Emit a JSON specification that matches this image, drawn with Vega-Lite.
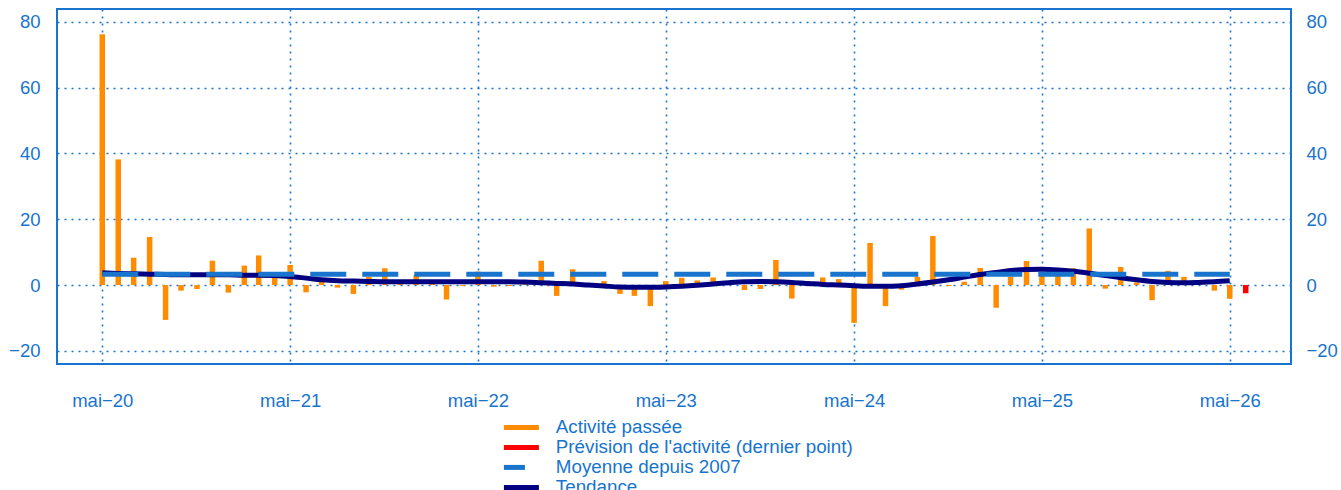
{
  "$schema": "https://vega.github.io/schema/vega-lite/v6.json",
  "width": 1234,
  "height": 355,
  "autosize": "none",
  "padding": {"left": 57, "top": 9, "right": 50, "bottom": 126},
  "config": {
    "font": "Liberation Sans",
    "view": {"stroke": "#1874cd", "strokeWidth": 2},
    "scale": {"continuousPadding": 0},
    "axis": {
      "labelFont": "Liberation Sans",
      "labelFontSize": 18.5,
      "labelColor": "#1874cd",
      "ticks": false,
      "domain": false,
      "gridColor": "#1874cd",
      "gridDash": [2, 5],
      "gridWidth": 1.6,
      "gridOpacity": 1,
      "title": null
    },
    "legend": {
      "labelFont": "Liberation Sans",
      "labelFontSize": 18.8,
      "labelColor": "#1874cd",
      "labelLimit": 0,
      "padding": 0
    }
  },
  "datasets": {
    "bars": [
      {"date": "2020-05-01", "value": 76.2, "serie": "Activité passée"},
      {"date": "2020-06-01", "value": 38.2, "serie": "Activité passée"},
      {"date": "2020-07-01", "value": 8.3, "serie": "Activité passée"},
      {"date": "2020-08-01", "value": 14.6, "serie": "Activité passée"},
      {"date": "2020-09-01", "value": -10.6, "serie": "Activité passée"},
      {"date": "2020-10-01", "value": -1.7, "serie": "Activité passée"},
      {"date": "2020-11-01", "value": -1.2, "serie": "Activité passée"},
      {"date": "2020-12-01", "value": 7.4, "serie": "Activité passée"},
      {"date": "2021-01-01", "value": -2.3, "serie": "Activité passée"},
      {"date": "2021-02-01", "value": 5.9, "serie": "Activité passée"},
      {"date": "2021-03-01", "value": 9.0, "serie": "Activité passée"},
      {"date": "2021-04-01", "value": 2.2, "serie": "Activité passée"},
      {"date": "2021-05-01", "value": 6.1, "serie": "Activité passée"},
      {"date": "2021-06-01", "value": -2.2, "serie": "Activité passée"},
      {"date": "2021-07-01", "value": 1.0, "serie": "Activité passée"},
      {"date": "2021-08-01", "value": -0.8, "serie": "Activité passée"},
      {"date": "2021-09-01", "value": -2.7, "serie": "Activité passée"},
      {"date": "2021-10-01", "value": 2.5, "serie": "Activité passée"},
      {"date": "2021-11-01", "value": 5.1, "serie": "Activité passée"},
      {"date": "2021-12-01", "value": 0.4, "serie": "Activité passée"},
      {"date": "2022-01-01", "value": 3.1, "serie": "Activité passée"},
      {"date": "2022-02-01", "value": 0.5, "serie": "Activité passée"},
      {"date": "2022-03-01", "value": -4.4, "serie": "Activité passée"},
      {"date": "2022-04-01", "value": -0.3, "serie": "Activité passée"},
      {"date": "2022-05-01", "value": 4.1, "serie": "Activité passée"},
      {"date": "2022-06-01", "value": -0.5, "serie": "Activité passée"},
      {"date": "2022-07-01", "value": -0.3, "serie": "Activité passée"},
      {"date": "2022-08-01", "value": 0.5, "serie": "Activité passée"},
      {"date": "2022-09-01", "value": 7.4, "serie": "Activité passée"},
      {"date": "2022-10-01", "value": -3.3, "serie": "Activité passée"},
      {"date": "2022-11-01", "value": 4.8, "serie": "Activité passée"},
      {"date": "2022-12-01", "value": 0.6, "serie": "Activité passée"},
      {"date": "2023-01-01", "value": 1.2, "serie": "Activité passée"},
      {"date": "2023-02-01", "value": -2.7, "serie": "Activité passée"},
      {"date": "2023-03-01", "value": -3.3, "serie": "Activité passée"},
      {"date": "2023-04-01", "value": -6.4, "serie": "Activité passée"},
      {"date": "2023-05-01", "value": 1.2, "serie": "Activité passée"},
      {"date": "2023-06-01", "value": 2.2, "serie": "Activité passée"},
      {"date": "2023-07-01", "value": 1.4, "serie": "Activité passée"},
      {"date": "2023-08-01", "value": 2.3, "serie": "Activité passée"},
      {"date": "2023-09-01", "value": 0.5, "serie": "Activité passée"},
      {"date": "2023-10-01", "value": -1.5, "serie": "Activité passée"},
      {"date": "2023-11-01", "value": -1.2, "serie": "Activité passée"},
      {"date": "2023-12-01", "value": 7.6, "serie": "Activité passée"},
      {"date": "2024-01-01", "value": -4.1, "serie": "Activité passée"},
      {"date": "2024-02-01", "value": 1.2, "serie": "Activité passée"},
      {"date": "2024-03-01", "value": 2.3, "serie": "Activité passée"},
      {"date": "2024-04-01", "value": 1.8, "serie": "Activité passée"},
      {"date": "2024-05-01", "value": -11.5, "serie": "Activité passée"},
      {"date": "2024-06-01", "value": 12.8, "serie": "Activité passée"},
      {"date": "2024-07-01", "value": -6.4, "serie": "Activité passée"},
      {"date": "2024-08-01", "value": -1.4, "serie": "Activité passée"},
      {"date": "2024-09-01", "value": 2.5, "serie": "Activité passée"},
      {"date": "2024-10-01", "value": 14.9, "serie": "Activité passée"},
      {"date": "2024-11-01", "value": -0.3, "serie": "Activité passée"},
      {"date": "2024-12-01", "value": 1.0, "serie": "Activité passée"},
      {"date": "2025-01-01", "value": 5.2, "serie": "Activité passée"},
      {"date": "2025-02-01", "value": -6.9, "serie": "Activité passée"},
      {"date": "2025-03-01", "value": 2.5, "serie": "Activité passée"},
      {"date": "2025-04-01", "value": 7.3, "serie": "Activité passée"},
      {"date": "2025-05-01", "value": 4.1, "serie": "Activité passée"},
      {"date": "2025-06-01", "value": 3.0, "serie": "Activité passée"},
      {"date": "2025-07-01", "value": 5.1, "serie": "Activité passée"},
      {"date": "2025-08-01", "value": 17.2, "serie": "Activité passée"},
      {"date": "2025-09-01", "value": -1.1, "serie": "Activité passée"},
      {"date": "2025-10-01", "value": 5.5, "serie": "Activité passée"},
      {"date": "2025-11-01", "value": 0.8, "serie": "Activité passée"},
      {"date": "2025-12-01", "value": -4.6, "serie": "Activité passée"},
      {"date": "2026-01-01", "value": 4.3, "serie": "Activité passée"},
      {"date": "2026-02-01", "value": 2.5, "serie": "Activité passée"},
      {"date": "2026-03-01", "value": 0.5, "serie": "Activité passée"},
      {"date": "2026-04-01", "value": -1.7, "serie": "Activité passée"},
      {"date": "2026-05-01", "value": -4.2, "serie": "Activité passée"},
      {"date": "2026-06-01", "value": -2.5, "serie": "Prévision de l'activité (dernier point)"}
    ],
    "mean": [
      {"date": "2020-05-01", "value": 3.3, "serie": "Moyenne depuis 2007"},
      {"date": "2026-05-01", "value": 3.3, "serie": "Moyenne depuis 2007"}
    ],
    "trend": [
      {"date": "2020-05-01", "value": 3.7, "serie": "Tendance"},
      {"date": "2020-06-01", "value": 3.5, "serie": "Tendance"},
      {"date": "2020-07-01", "value": 3.4, "serie": "Tendance"},
      {"date": "2020-08-01", "value": 3.3, "serie": "Tendance"},
      {"date": "2020-09-01", "value": 3.2, "serie": "Tendance"},
      {"date": "2020-10-01", "value": 3.1, "serie": "Tendance"},
      {"date": "2020-11-01", "value": 3.1, "serie": "Tendance"},
      {"date": "2020-12-01", "value": 3.1, "serie": "Tendance"},
      {"date": "2021-01-01", "value": 3.1, "serie": "Tendance"},
      {"date": "2021-02-01", "value": 3.0, "serie": "Tendance"},
      {"date": "2021-03-01", "value": 3.0, "serie": "Tendance"},
      {"date": "2021-04-01", "value": 2.9, "serie": "Tendance"},
      {"date": "2021-05-01", "value": 2.6, "serie": "Tendance"},
      {"date": "2021-06-01", "value": 2.1, "serie": "Tendance"},
      {"date": "2021-07-01", "value": 1.6, "serie": "Tendance"},
      {"date": "2021-08-01", "value": 1.3, "serie": "Tendance"},
      {"date": "2021-09-01", "value": 1.2, "serie": "Tendance"},
      {"date": "2021-10-01", "value": 1.1, "serie": "Tendance"},
      {"date": "2021-11-01", "value": 1.0, "serie": "Tendance"},
      {"date": "2021-12-01", "value": 1.0, "serie": "Tendance"},
      {"date": "2022-01-01", "value": 1.0, "serie": "Tendance"},
      {"date": "2022-02-01", "value": 1.0, "serie": "Tendance"},
      {"date": "2022-03-01", "value": 1.0, "serie": "Tendance"},
      {"date": "2022-04-01", "value": 1.0, "serie": "Tendance"},
      {"date": "2022-05-01", "value": 1.0, "serie": "Tendance"},
      {"date": "2022-06-01", "value": 1.0, "serie": "Tendance"},
      {"date": "2022-07-01", "value": 1.0, "serie": "Tendance"},
      {"date": "2022-08-01", "value": 0.9, "serie": "Tendance"},
      {"date": "2022-09-01", "value": 0.7, "serie": "Tendance"},
      {"date": "2022-10-01", "value": 0.5, "serie": "Tendance"},
      {"date": "2022-11-01", "value": 0.3, "serie": "Tendance"},
      {"date": "2022-12-01", "value": 0.0, "serie": "Tendance"},
      {"date": "2023-01-01", "value": -0.3, "serie": "Tendance"},
      {"date": "2023-02-01", "value": -0.6, "serie": "Tendance"},
      {"date": "2023-03-01", "value": -0.7, "serie": "Tendance"},
      {"date": "2023-04-01", "value": -0.7, "serie": "Tendance"},
      {"date": "2023-05-01", "value": -0.6, "serie": "Tendance"},
      {"date": "2023-06-01", "value": -0.4, "serie": "Tendance"},
      {"date": "2023-07-01", "value": -0.1, "serie": "Tendance"},
      {"date": "2023-08-01", "value": 0.3, "serie": "Tendance"},
      {"date": "2023-09-01", "value": 0.7, "serie": "Tendance"},
      {"date": "2023-10-01", "value": 1.0, "serie": "Tendance"},
      {"date": "2023-11-01", "value": 1.1, "serie": "Tendance"},
      {"date": "2023-12-01", "value": 1.0, "serie": "Tendance"},
      {"date": "2024-01-01", "value": 0.8, "serie": "Tendance"},
      {"date": "2024-02-01", "value": 0.5, "serie": "Tendance"},
      {"date": "2024-03-01", "value": 0.2, "serie": "Tendance"},
      {"date": "2024-04-01", "value": 0.0, "serie": "Tendance"},
      {"date": "2024-05-01", "value": -0.2, "serie": "Tendance"},
      {"date": "2024-06-01", "value": -0.4, "serie": "Tendance"},
      {"date": "2024-07-01", "value": -0.4, "serie": "Tendance"},
      {"date": "2024-08-01", "value": -0.2, "serie": "Tendance"},
      {"date": "2024-09-01", "value": 0.3, "serie": "Tendance"},
      {"date": "2024-10-01", "value": 0.9, "serie": "Tendance"},
      {"date": "2024-11-01", "value": 1.6, "serie": "Tendance"},
      {"date": "2024-12-01", "value": 2.4, "serie": "Tendance"},
      {"date": "2025-01-01", "value": 3.2, "serie": "Tendance"},
      {"date": "2025-02-01", "value": 3.8, "serie": "Tendance"},
      {"date": "2025-03-01", "value": 4.4, "serie": "Tendance"},
      {"date": "2025-04-01", "value": 4.7, "serie": "Tendance"},
      {"date": "2025-05-01", "value": 4.8, "serie": "Tendance"},
      {"date": "2025-06-01", "value": 4.6, "serie": "Tendance"},
      {"date": "2025-07-01", "value": 4.2, "serie": "Tendance"},
      {"date": "2025-08-01", "value": 3.6, "serie": "Tendance"},
      {"date": "2025-09-01", "value": 2.9, "serie": "Tendance"},
      {"date": "2025-10-01", "value": 2.2, "serie": "Tendance"},
      {"date": "2025-11-01", "value": 1.6, "serie": "Tendance"},
      {"date": "2025-12-01", "value": 1.1, "serie": "Tendance"},
      {"date": "2026-01-01", "value": 0.8, "serie": "Tendance"},
      {"date": "2026-02-01", "value": 0.7, "serie": "Tendance"},
      {"date": "2026-03-01", "value": 0.8, "serie": "Tendance"},
      {"date": "2026-04-01", "value": 1.0, "serie": "Tendance"},
      {"date": "2026-05-01", "value": 1.3, "serie": "Tendance"}
    ]
  },
  "layer": [
    {
      "data": {"name": "bars"},
      "mark": {"type": "bar", "width": 5.5},
      "encoding": {
        "x": {
          "field": "date",
          "type": "temporal",
          "scale": {
            "type": "utc",
            "domain": [
              {"year": 2020, "month": 2, "date": 3, "utc": true},
              {"year": 2026, "month": 8, "date": 28, "utc": true}
            ],
            "nice": false,
            "padding": 0
          },
          "axis": {
            "orient": "bottom",
            "grid": true,
            "values": [
              {"year": 2020, "month": 5, "date": 1, "utc": true},
              {"year": 2021, "month": 5, "date": 1, "utc": true},
              {"year": 2022, "month": 5, "date": 1, "utc": true},
              {"year": 2023, "month": 5, "date": 1, "utc": true},
              {"year": 2024, "month": 5, "date": 1, "utc": true},
              {"year": 2025, "month": 5, "date": 1, "utc": true},
              {"year": 2026, "month": 5, "date": 1, "utc": true}
            ],
            "labelExpr": "'mai\u2212' + utcFormat(datum.value, '%y')",
            "labelPadding": 27,
            "labelFlush": false,
            "labelOverlap": false
          }
        },
        "y": {
          "field": "value",
          "type": "quantitative",
          "scale": {"domain": [-24, 83.9], "nice": false, "zero": false},
          "axis": {
            "orient": "left",
            "grid": true,
            "values": [-20, 0, 20, 40, 60, 80],
            "labelPadding": 17
          }
        },
        "color": {
          "field": "serie",
          "type": "nominal",
          "scale": {
            "domain": ["Activité passée", "Prévision de l'activité (dernier point)", "Moyenne depuis 2007", "Tendance"],
            "range": ["#ff8c00", "#ff0000", "#1874cd", "#000080"]
          },
          "legend": {
            "title": null,
            "orient": "none",
            "legendX": 455,
            "legendY": 409,
            "direction": "vertical",
            "symbolType": "M-3,0H3",
            "symbolSize": 136,
            "symbolStrokeWidth": 5,
            "labelOffset": 25,
            "rowPadding": -6.5,
            "encode": {
              "symbols": {
                "update": {
                  "stroke": {"scale": "color", "field": "value"},
                  "fill": {"value": "transparent"},
                  "strokeWidth": {"value": 5},
                  "opacity": {"value": 1},
                  "strokeDash": {"signal": "datum.value === 'Moyenne depuis 2007' ? [21, 100] : [1, 0]"}
                }
              }
            }
          }
        }
      }
    },
    {
      "data": {"name": "trend"},
      "mark": {"type": "line", "strokeWidth": 5, "interpolate": "monotone"},
      "encoding": {
        "x": {"field": "date", "type": "temporal"},
        "y": {"field": "value", "type": "quantitative", "axis": null},
        "color": {"field": "serie", "type": "nominal"}
      }
    },
    {
      "data": {"name": "mean"},
      "mark": {"type": "line", "strokeWidth": 5, "strokeDash": [36, 16]},
      "encoding": {
        "x": {"field": "date", "type": "temporal"},
        "y": {
          "field": "value",
          "type": "quantitative",
          "axis": {
            "orient": "right",
            "grid": false,
            "values": [-20, 0, 20, 40, 60, 80],
            "labelPadding": 15
          }
        },
        "color": {"field": "serie", "type": "nominal"}
      }
    }
  ],
  "resolve": {"axis": {"y": "independent"}}
}
